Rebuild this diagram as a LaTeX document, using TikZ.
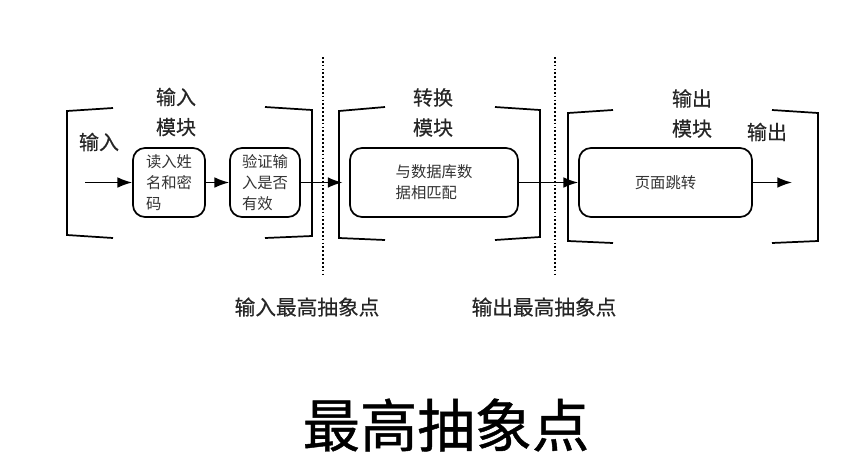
\documentclass[tikz,border=0pt]{standalone}
\usepackage{fontspec}
\setmainfont{Noto Sans CJK SC}
\newfontfamily\titlefont[FakeBold=0.8]{Noto Sans CJK SC}
\newfontfamily\labelfont[FakeBold=0.4]{Noto Sans CJK SC}
\usetikzlibrary{arrows.meta}
\begin{document}
\begin{tikzpicture}[x=0.75pt, y=-0.75pt,
		b/.style = {draw, rounded corners=9pt, line width=1.3pt, minimum height=51.75pt, inner sep=0pt, align=left, text=black!80, font=\fontsize{11.5}{16}\selectfont},
		l/.style = {align=center, text=black!85, font=\labelfont\fontsize{15}{22.5}\selectfont},
		br/.style = {line width=1.3pt},
		a/.style = {-{Latex[length=11pt,width=8pt]}, line width=1.1pt},
		d/.style = {line width=1.4pt, dash pattern=on 1.3pt off 1.6pt}]
			\fill[white] (0,0) rectangle (857,465);
			\node[b, minimum width=54pt] at (169,182.5) (1) {读入姓\\名和密\\码};
			\node[b, minimum width=52.5pt] at (265,182.5) (2) {验证输\\入是否\\有效};
			\node[b, minimum width=126pt] at (434,182.5) (3) {与数据库数\\据相匹配};
			\node[b, minimum width=129.75pt] at (665.5,182.5) (4) {页面跳转};
			\coordinate (in) at (85,182.5);
			\coordinate (out) at (792,182.5);
			\draw[a] (in) -- (1.west);
			\draw[a] (1) -- (2);
			\draw[a, shorten >=5pt] (2) -- (3);
			\draw[a] (3) -- (4);
			\draw[a] (4.east) -- (out);
			\draw[br] (113,108) -- (67,111) -- (67,235) -- (113,238);
			\draw[br] (265,107) -- (312,110) -- (312,236) -- (265,238);
			\draw[br] (385,107) -- (339,111) -- (339,238) -- (385,240);
			\draw[br] (495,107) -- (540,110) -- (540,237) -- (495,240);
			\draw[br] (613,110) -- (568,113) -- (568,241) -- (613,243);
			\draw[br] (772,110) -- (818,113) -- (818,241) -- (772,243);
			\coordinate (p1) at (323,57);
			\coordinate (q1) at (323,277);
			\coordinate (p2) at (555,57);
			\coordinate (q2) at (555,277);
			\draw[d] (p1) -- (q1);
			\draw[d] (p2) -- (q2);
			\node[l] at (99,142) (inl) {输入};
			\node[l] at (176,112) (inm) {输入\\模块};
			\node[l] at (433,112.5) (trm) {转换\\模块};
			\node[l] at (692,113.5) (outm) {输出\\模块};
			\node[l] at (767,132) (outl) {输出};
			\node[l, font=\labelfont\fontsize{15.5}{20}\selectfont] at (307,307) (inp) {输入最高抽象点};
			\node[l, font=\labelfont\fontsize{15.5}{20}\selectfont] at (544,307) (outp) {输出最高抽象点};
			\node[font=\titlefont\fontsize{43}{50}\selectfont] at (446,425) (t) {最高抽象点};
		\end{tikzpicture}
\end{document}
